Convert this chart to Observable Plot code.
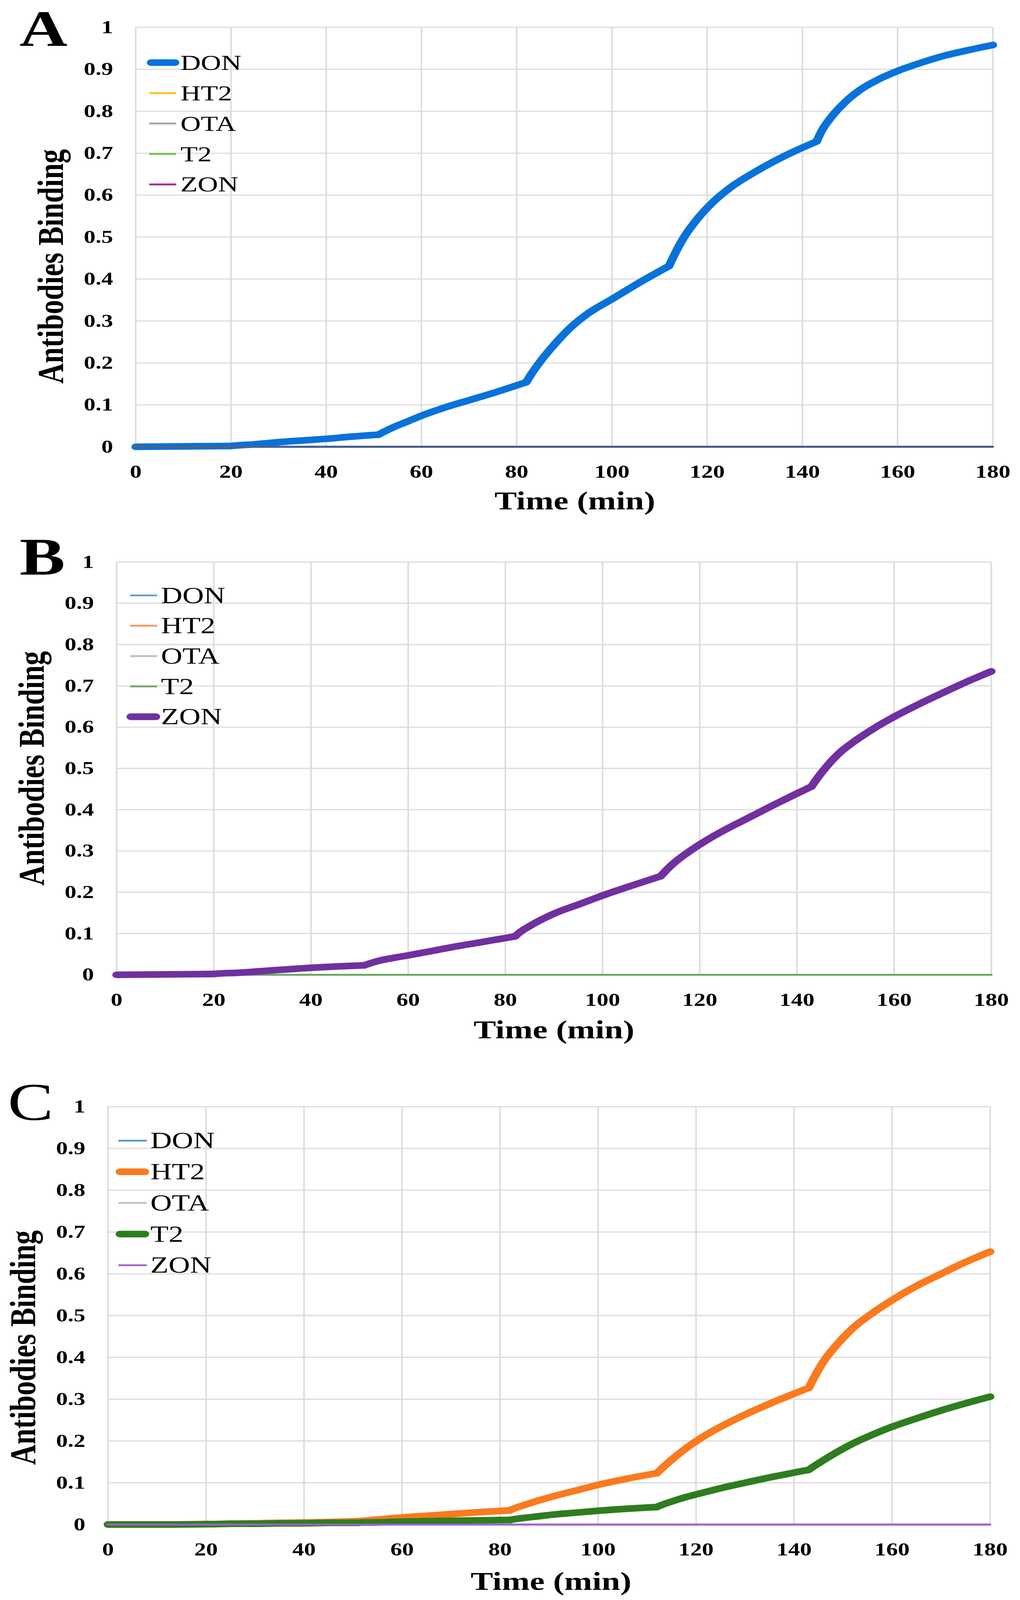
<!DOCTYPE html>
<html><head><meta charset="utf-8">
<script src="https://cdn.jsdelivr.net/npm/d3@7"></script>
<script src="https://cdn.jsdelivr.net/npm/@observablehq/plot@0.6"></script>
<style>
html,body{margin:0;padding:0;background:#fff;overflow:hidden;}
#page{position:relative;width:2611px;height:5291px;background:#fff;transform-origin:0 0;}
.panel{position:absolute;left:0;width:2611px;}
#overlay{position:absolute;left:0;top:0;}
</style></head><body><div id="page"></div>
<script>
// ---------- data ----------
const series = ["DON", "HT2", "OTA", "T2", "ZON"];
const injections = [20, 51, 82, 112, 143];
const times = [0, 10, 20, 21, 25, 30, 35, 40, 45, 51, 52, 54, 57, 60, 65, 70, 75, 82, 83, 85, 88, 91, 95, 100, 106, 112, 113, 115, 118, 121, 125, 130, 136, 143, 144, 146, 149, 152, 156, 160, 165, 170, 175, 180];
const flatTimes = [0, 180];
const flatValues = [0, 0];
const donA = [0, 0.001, 0.002, 0.003, 0.006, 0.011, 0.015, 0.019, 0.024, 0.029, 0.035, 0.046, 0.060, 0.074, 0.094, 0.111, 0.128, 0.154, 0.172, 0.204, 0.245, 0.281, 0.318, 0.352, 0.393, 0.431, 0.455, 0.497, 0.544, 0.581, 0.619, 0.655, 0.692, 0.728, 0.752, 0.785, 0.822, 0.850, 0.876, 0.896, 0.916, 0.933, 0.946, 0.958];
const zonB = [0, 0.001, 0.002, 0.003, 0.005, 0.009, 0.013, 0.017, 0.020, 0.023, 0.027, 0.034, 0.041, 0.047, 0.058, 0.069, 0.079, 0.093, 0.103, 0.118, 0.137, 0.153, 0.170, 0.192, 0.216, 0.239, 0.252, 0.274, 0.300, 0.323, 0.350, 0.380, 0.416, 0.456, 0.473, 0.503, 0.540, 0.567, 0.598, 0.625, 0.655, 0.683, 0.710, 0.735];
const ht2C = [0, 0, 0.001, 0.001, 0.002, 0.003, 0.004, 0.005, 0.006, 0.008, 0.009, 0.011, 0.014, 0.017, 0.021, 0.025, 0.029, 0.034, 0.039, 0.047, 0.058, 0.068, 0.080, 0.095, 0.110, 0.123, 0.134, 0.155, 0.183, 0.207, 0.234, 0.263, 0.294, 0.327, 0.350, 0.390, 0.434, 0.470, 0.506, 0.537, 0.571, 0.600, 0.628, 0.653];
const t2C = [0, 0, 0.001, 0.001, 0.002, 0.002, 0.003, 0.003, 0.004, 0.004, 0.005, 0.005, 0.006, 0.007, 0.008, 0.009, 0.010, 0.011, 0.013, 0.016, 0.020, 0.024, 0.028, 0.033, 0.038, 0.042, 0.047, 0.055, 0.066, 0.075, 0.087, 0.100, 0.115, 0.131, 0.139, 0.154, 0.175, 0.194, 0.215, 0.234, 0.254, 0.273, 0.290, 0.306];
const xTicks = [0, 20, 40, 60, 80, 100, 120, 140, 160, 180];
const yTicks = [0, 0.1, 0.2, 0.3, 0.4, 0.5, 0.6, 0.7, 0.8, 0.9, 1];
const panelLetters = ["A", "B", "C"];
const xLabel = "Time (min)";
const yLabel = "Antibodies Binding";
const colorsA = ["#0872DA", "#FFC000", "#A5A5A5", "#70BF50", "#B0209A"];
const colorsB = ["#5B9BD5", "#F59A5E", "#BFBFBF", "#69A85C", "#7030A0"];
const colorsC = ["#5B9BD5", "#FA7A1E", "#BFBFBF", "#2E7D1F", "#A35ED4"];

const panels = [
  {values: {DON: [times, donA], HT2: [flatTimes, flatValues], OTA: [flatTimes, flatValues], T2: [flatTimes, flatValues], ZON: [flatTimes, flatValues]}, colors: colorsA, thick: ["DON"]},
  {values: {DON: [flatTimes, flatValues], HT2: [flatTimes, flatValues], OTA: [flatTimes, flatValues], T2: [flatTimes, flatValues], ZON: [times, zonB]}, colors: colorsB, thick: ["ZON"]},
  {values: {DON: [flatTimes, flatValues], HT2: [times, ht2C], OTA: [flatTimes, flatValues], T2: [times, t2C], ZON: [flatTimes, flatValues]}, colors: colorsC, thick: ["HT2", "T2"]}
];

// ---------- layout (positions & styles only) ----------
const FONT = "'Times New Roman', 'Liberation Serif', serif";
const PAGE_W = 2611, PAGE_H = 5291;
const layouts = [
  {top: 0, height: 1740, mt: 90, mb: 263, ml: 347, mr: 70, xDx: 27, xDy: 179, yDy: 97, baseRule: "#46628c",
   letter: {x: 50, y: 152, weight: "bold", size: 170},
   legend: {thinX: [382, 451], thickX: [387, 448], textX: 462, y0: 207, step: 100.7, fs: 72}},
  {top: 1740, height: 1720, mt: 118, mb: 237, ml: 298, mr: 74, xDx: 0, xDy: 183, yDy: 0, baseRule: null,
   letter: {x: 50, y: 1900, weight: "bold", size: 175},
   legend: {thinX: [333, 402], thickX: [335, 399], textX: 412, y0: 1969, step: 100.3, fs: 76}},
  {top: 3460, height: 1831, mt: 199, mb: 250, ml: 276, mr: 77, xDx: 5, xDy: 188, yDy: 106, baseRule: null,
   letter: {x: 20, y: 3703, weight: "normal", size: 175},
   legend: {thinX: [303, 376], thickX: [307, 371], textX: 385, y0: 3772, step: 103, fs: 76}}
];
const THICK = 22, THIN = 6;

// split a series into segments at the injection times (each joint shared by both sides)
function segmentRows(ts, vs) {
  const rows = [];
  let seg = 0;
  ts.forEach((t, j) => {
    rows.push({t, v: vs[j], seg});
    if (injections.includes(t) && j > 0 && j < ts.length - 1) {
      seg++;
      rows.push({t, v: vs[j], seg});
    }
  });
  return rows;
}

const page = document.getElementById("page");

panels.forEach((p, k) => {
  const L = layouts[k];
  const marks = [
    Plot.ruleX(xTicks, {x: d => d, stroke: "#dcdcdc", strokeWidth: 4}),
    Plot.ruleY(yTicks, {y: d => d, stroke: "#dcdcdc", strokeWidth: 4})
  ];
  series.forEach((s, i) => {
    const [ts, vs] = p.values[s];
    const thick = p.thick.includes(s);
    const w = thick ? THICK : THIN;
    const rows = segmentRows(ts, vs);
    marks.push(Plot.lineY(rows, {x: "t", y: "v", z: "seg", curve: "monotone-x", stroke: p.colors[i], strokeWidth: w, strokeLinejoin: "round"}));
    const joints = ts.map((t, j) => ({t, v: vs[j]})).filter((d, j) => injections.includes(d.t) && j > 0 && j < ts.length - 1);
    if (joints.length) marks.push(Plot.dot(joints, {x: "t", y: "v", r: w / 2, fill: p.colors[i]}));
  });
  if (L.baseRule) marks.push(Plot.ruleY([0], {stroke: L.baseRule, strokeWidth: 7}));
  marks.push(Plot.text([yLabel], {frameAnchor: "left", textAnchor: "middle", lineAnchor: "middle", rotate: -90, dx: -217, dy: L.yDy, text: d => d, fontSize: 94, fontWeight: "bold", fill: "#000"}));
  marks.push(Plot.text([xLabel], {frameAnchor: "bottom", textAnchor: "middle", lineAnchor: "middle", dx: L.xDx, dy: L.xDy, text: d => d, fontSize: 86, fontWeight: "bold", fill: "#000"}));

  const chart = Plot.plot({
    width: PAGE_W, height: L.height,
    marginTop: L.mt, marginBottom: L.mb, marginLeft: L.ml, marginRight: L.mr,
    style: {fontFamily: FONT, fontSize: "60px", fontWeight: "bold", background: "transparent", overflow: "visible", color: "#000"},
    x: {domain: [0, 180], ticks: xTicks, tickSize: 0, tickPadding: 60, label: null, tickFormat: d3.format("~g")},
    y: {domain: [0, 1], ticks: yTicks, tickSize: 0, tickPadding: 58, label: null, tickFormat: d3.format("~g")},
    marks
  });
  const div = document.createElement("div");
  div.className = "panel";
  div.style.top = L.top + "px";
  div.style.height = L.height + "px";
  div.appendChild(chart);
  page.appendChild(div);
});

// ---------- overlay: panel letters and legends ----------
const overlay = d3.select(page).append("svg")
  .attr("id", "overlay").attr("width", PAGE_W).attr("height", PAGE_H)
  .style("font-family", FONT);

panels.forEach((p, k) => {
  const L = layouts[k];
  overlay.append("text")
    .attr("x", L.letter.x).attr("y", L.letter.y)
    .attr("font-size", L.letter.size).attr("font-weight", L.letter.weight)
    .attr("fill", "#000").text(panelLetters[k]);
  series.forEach((s, i) => {
    const y = L.legend.y0 + i * L.legend.step;
    const thick = p.thick.includes(s);
    const xs = thick ? L.legend.thickX : L.legend.thinX;
    overlay.append("line")
      .attr("x1", xs[0]).attr("x2", xs[1]).attr("y1", y).attr("y2", y)
      .attr("stroke", p.colors[i]).attr("stroke-width", thick ? THICK : THIN)
      .attr("stroke-linecap", thick ? "round" : "butt");
    overlay.append("text")
      .attr("x", L.legend.textX).attr("y", y + 0.33 * L.legend.fs)
      .attr("font-size", L.legend.fs).attr("fill", "#000").text(s);
  });
});

// fit the full figure into the visible window height (the window may be shorter than the figure)
function fit() {
  const s = Math.min(1, window.innerHeight / PAGE_H);
  page.style.transform = s < 1 ? "scaleY(" + s + ")" : "none";
  document.body.style.height = Math.min(PAGE_H, window.innerHeight) + "px";
}
fit();
window.addEventListener("resize", fit);
</script></body></html>
